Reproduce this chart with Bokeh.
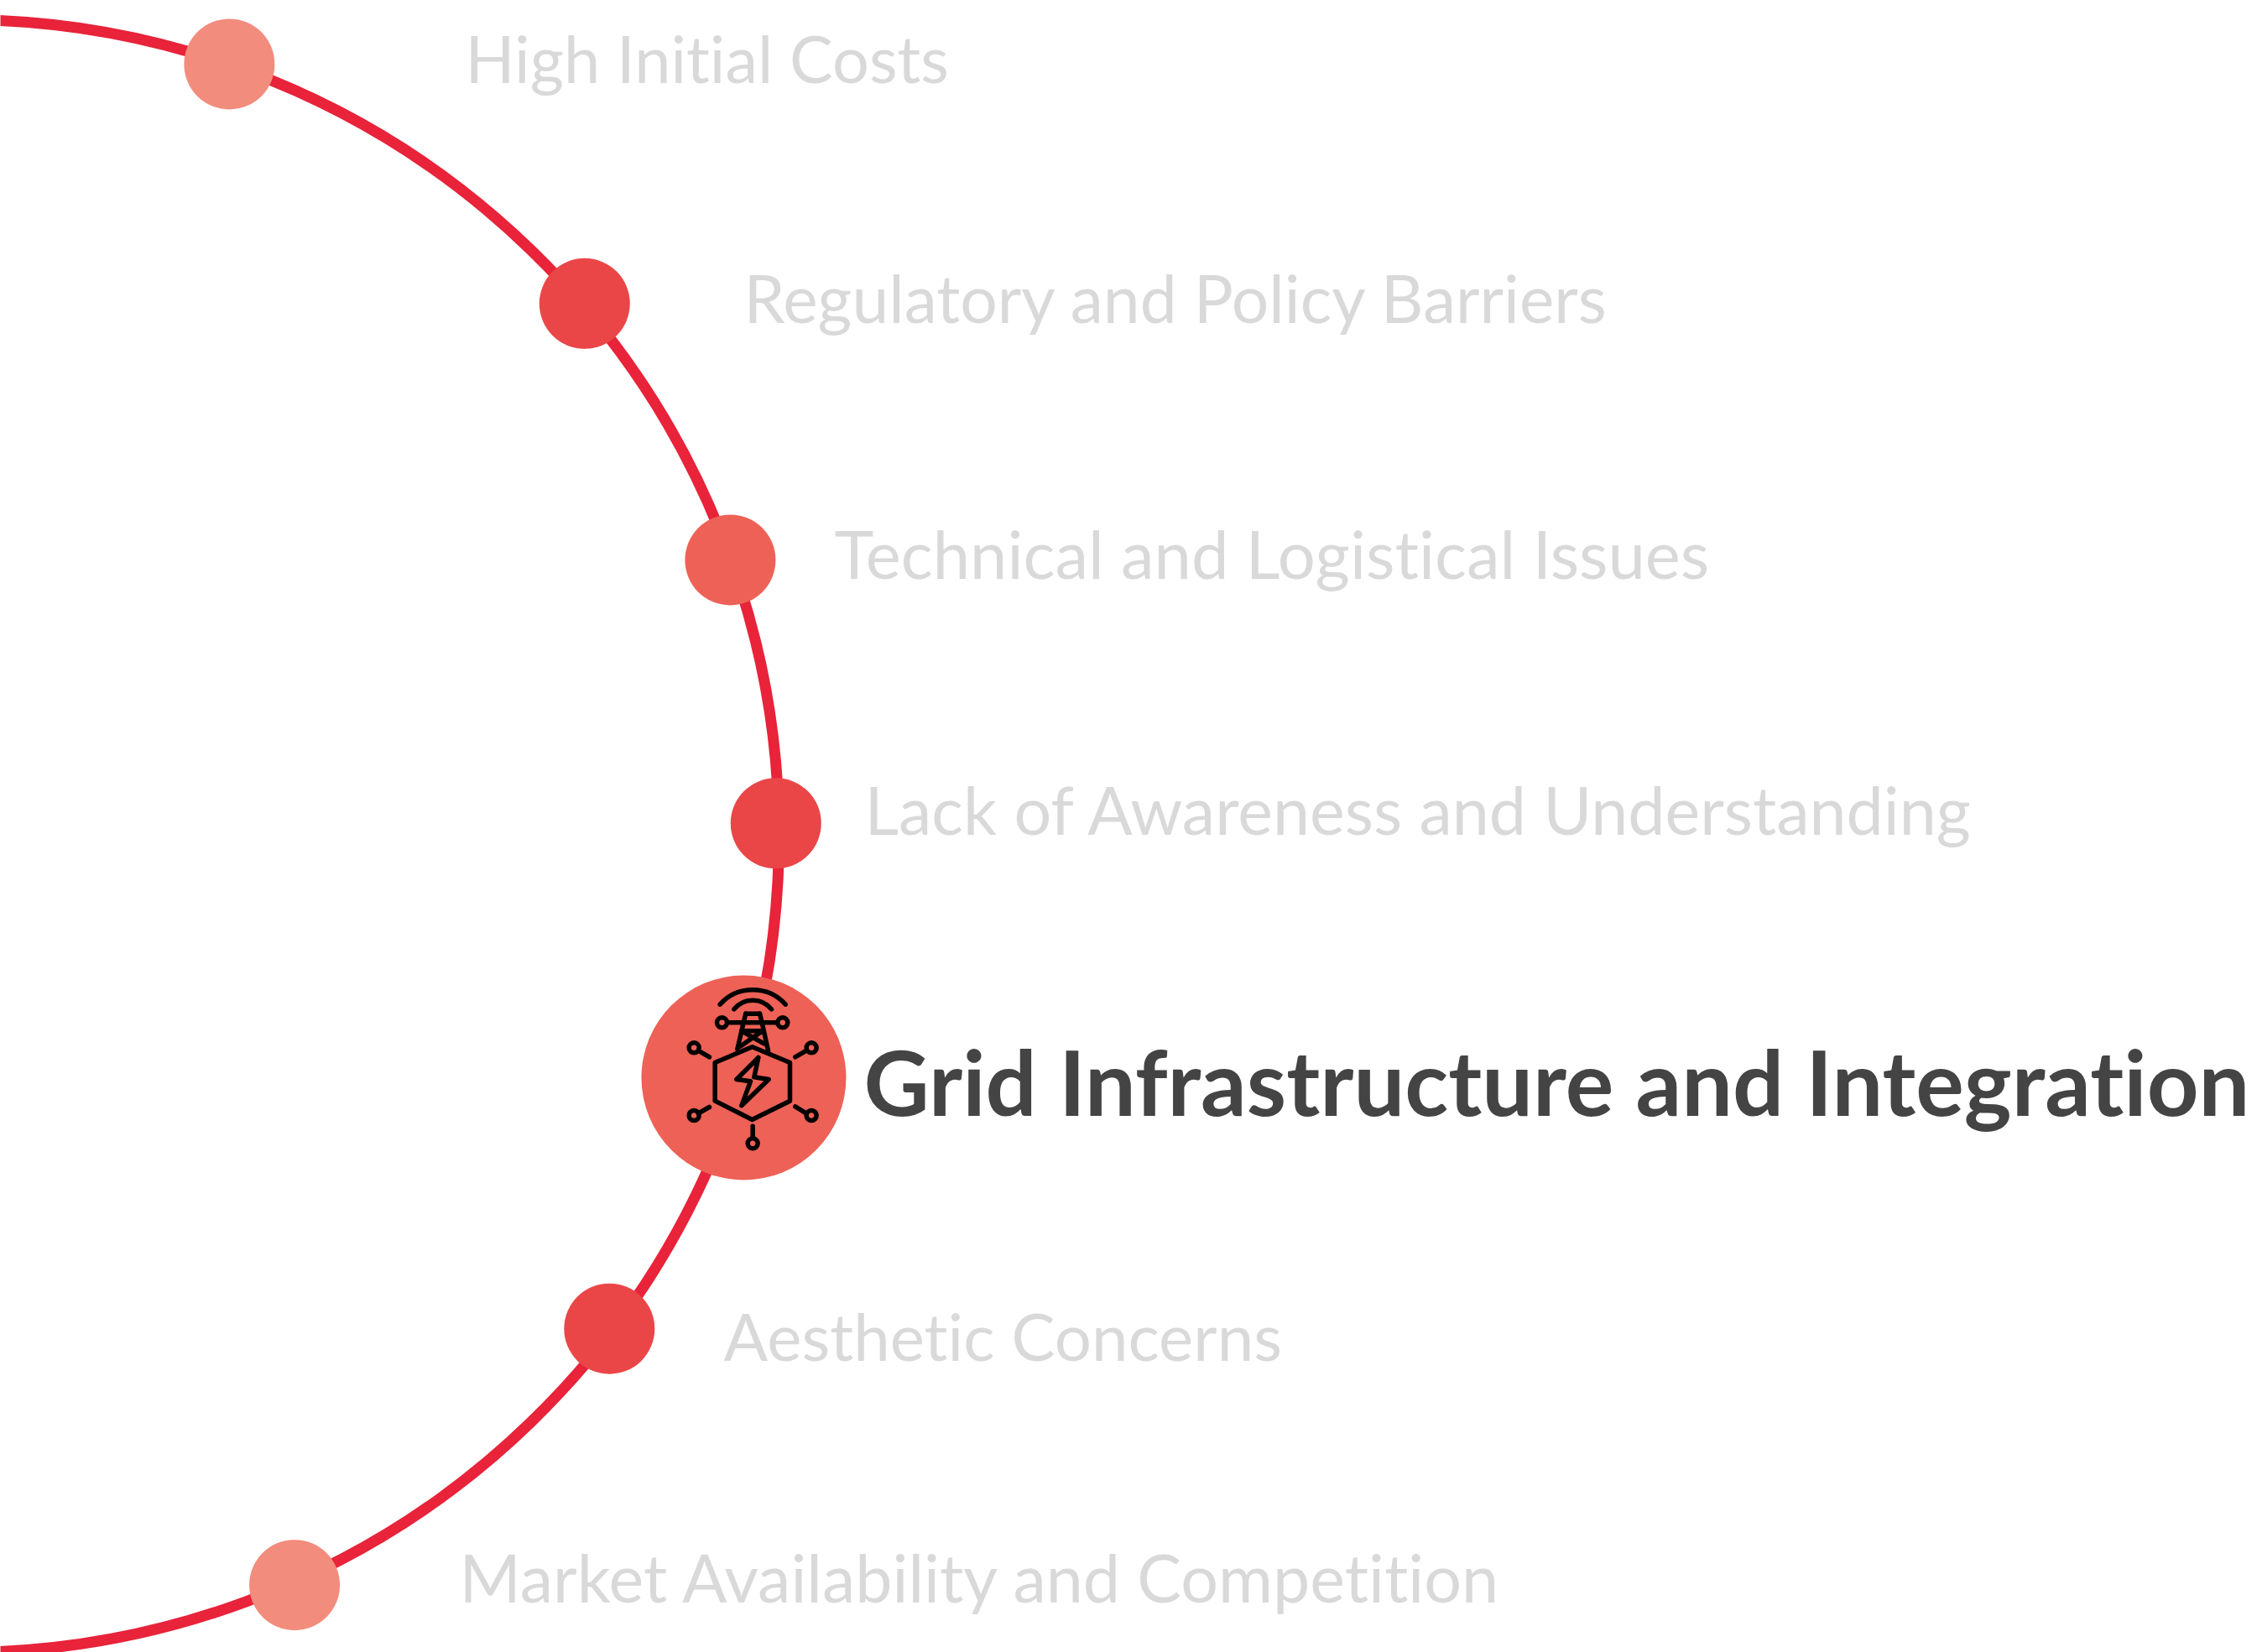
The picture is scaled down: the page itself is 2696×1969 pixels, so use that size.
import math
from bokeh.plotting import figure
from bokeh.models import Range1d
from bokeh.core.properties import value
from bokeh.embed import file_html
from bokeh.resources import INLINE

labels = ["High Initial Costs", "Regulatory and Policy Barriers", "Technical and Logistical Issues",
          "Lack of Awareness and Understanding", "Grid Infrastructure and Integration",
          "Aesthetic Concerns", "Market Availability and Competition"]
dot_angles = [70.94, 40.57, 19.78, 0.9, -17.19, -37.3, -66.1]
dot_dist = [973.4, 975.9, 972.3, 969.4, 974.5, 969, 976.4]
dot_colors = ["#F28C7D", "#EA4648", "#EE6156", "#EA4648", "#EE6156", "#EA4648", "#F28C7D"]
dot_radii = [54, 54, 54, 54, 122, 54, 54]
label_x = [554, 886, 994, 1030, 1029, 862, 547]
label_mid = [69, 354, 659, 964, 1288, 1591, 1879]
label_size = [77.5, 78.5, 79.5, 79, 107.8, 78, 79]

W, H = 2696, 1969
CX, CY, R = -45, H - 996, 973

p = figure(width=W, height=H, output_backend="svg", toolbar_location=None,
           x_range=Range1d(0, W), y_range=Range1d(0, H), min_border=0,
           styles={"font-variant-ligatures": "none"})
p.axis.visible = False
p.grid.visible = False
p.outline_line_color = None

p.arc(x=[CX], y=[CY], radius=[R], start_angle=[-1.6], end_angle=[1.6],
      line_color="#E8233A", line_width=13)

xs = [CX + d * math.cos(math.radians(a)) for a, d in zip(dot_angles, dot_dist)]
ys = [CY + d * math.sin(math.radians(a)) for a, d in zip(dot_angles, dot_dist)]
p.circle(x=xs, y=ys, radius=dot_radii, fill_color=dot_colors, line_color=None)

for i, t in enumerate(labels):
    big = i == 4
    p.text(x=[label_x[i]], y=[H - label_mid[i]], text=[t], text_baseline="middle", text_align="left",
           text_font=value("Lato"), text_font_size=f"{label_size[i]}px",
           text_font_style="bold" if big else "normal",
           text_color="#444444" if big else "#D9D9D9")

# icon: drawn in crop-relative units
def ix(z): return 740 + z / 3
def iy(z): return H - (1140 + z / 3)
def pl(pts, close=False):
    pts = pts + pts[:1] if close else pts
    p.line([ix(a) for a, b in pts], [iy(b) for a, b in pts], line_color="black", line_width=5.5,
           line_cap="round", line_join="round")

pl([(468, 322), (603, 378), (603, 515), (468, 582), (335, 515), (335, 378)], True)
pl([(490, 360), (412, 438), (462, 445), (430, 532), (527, 438), (475, 430)], True)
for a, b in [((315, 358), (275, 335)), ((622, 358), (662, 335)), ((315, 537), (275, 560)),
             ((622, 535), (662, 560)), ((470, 605), (470, 645)), ((380, 235), (555, 235)),
             ((437, 235), (445, 203)), ((445, 203), (495, 203)), ((495, 203), (503, 235)),
             ((437, 235), (415, 330)), ((503, 235), (525, 335)), ((430, 265), (510, 310)),
             ((505, 265), (425, 320)), ((430, 265), (505, 265))]:
    pl([a, b])
hubs = [(260, 325), (680, 325), (260, 567), (680, 567), (470, 667), (360, 235), (577, 235)]
p.circle(x=[ix(a) for a, b in hubs], y=[iy(b) for a, b in hubs], radius=6,
         fill_color=None, line_color="black", line_width=5.5)
def wifi(cz, r, half):
    s = math.asin(half / r)
    p.arc(x=[ix(470)], y=[iy(cz)], radius=[r / 3], start_angle=[math.pi / 2 - s], end_angle=[math.pi / 2 + s],
          line_color="black", line_width=5.5, line_cap="round")
wifi(275.6, 157.6, 117)
wifi(241, 86, 67)

open("out.html", "w").write(file_html(p, INLINE))
